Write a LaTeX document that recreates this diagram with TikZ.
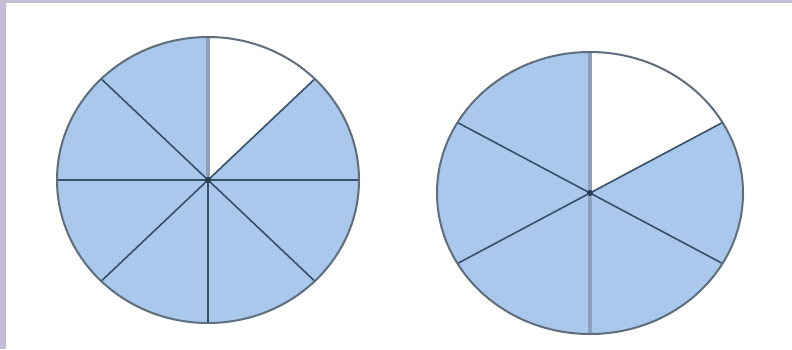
\documentclass[tikz,border=0pt]{standalone}
\usetikzlibrary{calc}
\definecolor{frame}{RGB}{196,189,212}
\definecolor{pieblue}{RGB}{170,200,236}
\definecolor{rimc}{RGB}{95,110,125}
\definecolor{spokec}{RGB}{55,80,105}
\definecolor{thickc}{RGB}{140,160,185}
\definecolor{hubc}{RGB}{40,60,80}
\begin{document}
\begin{tikzpicture}[x=1pt,y=-1pt,
  rim/.style={draw=rimc, line width=2pt},
  spoke/.style={draw=spokec, line width=1.6pt},
  thickspoke/.style={draw=thickc, line width=3.5pt}]
\useasboundingbox (0,0) rectangle (792,349);
\fill[frame] (0,0) rectangle (792,349);
\fill[white] (6,3) rectangle (792,349);
% left circle: 8 parts, 7 shaded
\coordinate (L) at (208,180);
\fill[pieblue] (L) ellipse [x radius=151, y radius=143];
\fill[white] (L) -- ++(0,-143) arc[start angle=-90, end angle=-45, x radius=151, y radius=143] -- cycle;
\draw[thickspoke] (L) -- ++(0,-143);
\foreach \a in {0,45,135,180,225,270,315} {
  \draw[spoke] (L) -- ++({151*cos(\a)},{-143*sin(\a)});
}
\draw[rim] (L) ellipse [x radius=151, y radius=143];
\fill[hubc] (L) circle (3);
% right circle: 6 parts, 5 shaded
\coordinate (R) at (590,193);
\fill[pieblue] (R) ellipse [x radius=153, y radius=141];
\fill[white] (R) -- ++(0,-141) arc[start angle=-90, end angle=-30, x radius=153, y radius=141] -- cycle;
\draw[thickspoke] (R) -- ++(0,-141);
\draw[thickspoke] (R) -- ++(0,141);
\foreach \a in {30,150,210,330} {
  \draw[spoke] (R) -- ++({153*cos(\a)},{-141*sin(\a)});
}
\draw[rim] (R) ellipse [x radius=153, y radius=141];
\fill[hubc] (R) circle (3);
\end{tikzpicture}
\end{document}
